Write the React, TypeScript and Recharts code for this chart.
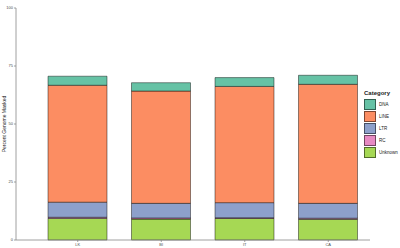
import React from "react";
import { BarChart, Bar, XAxis, YAxis, Label } from "recharts";

const samples = ["LK", "BI", "IT", "CA"];
const unknownPct = [9.3, 9.0, 9.3, 8.9];
const rcPct = [0.5, 0.5, 0.3, 0.5];
const ltrPct = [6.5, 6.3, 6.5, 6.4];
const linePct = [50.4, 48.4, 50.1, 51.3];
const dnaPct = [3.9, 3.6, 3.8, 3.9];
const yTicks = [0, 25, 50, 75, 100];

const categories = [
  { key: "DNA", color: "#66C2A5" },
  { key: "LINE", color: "#FC8D62" },
  { key: "LTR", color: "#8DA0CB" },
  { key: "RC", color: "#E78AC3" },
  { key: "Unknown", color: "#A6D854" },
];

const data = samples.map((s, i) => ({
  sample: s,
  Unknown: unknownPct[i],
  RC: rcPct[i],
  LTR: ltrPct[i],
  LINE: linePct[i],
  DNA: dnaPct[i],
}));

const stackOrder = ["Unknown", "RC", "LTR", "LINE", "DNA"];
const colorOf = (k: string) => categories.find((c) => c.key === k)!.color;

const tickStyle = { fontSize: 4, fill: "#4d4d4d", fontFamily: "Liberation Sans, Arial" };

const App: React.FC = () => {
  return (
    <div style={{ position: "absolute", left: 0, top: 0, width: 400, height: 248, background: "#fff" }}>
      <BarChart
        width={400}
        height={248}
        data={data}
        margin={{ top: 8, right: 30, left: 0, bottom: 0 }}
      >
        <XAxis
          dataKey="sample"
          height={8}
          padding={{ left: 20, right: 0 }}
          tick={tickStyle}
          tickSize={2}
          tickMargin={1}
          stroke="#888"
          strokeWidth={0.8}
        />
        <YAxis
          domain={[0, 100]}
          ticks={yTicks}
          width={16}
          tick={tickStyle}
          tickSize={2}
          tickMargin={1}
          stroke="#888"
          strokeWidth={0.8}
        >
          <Label
            value="Percent Genome Masked"
            angle={-90}
            position="insideLeft"
            offset={0}
            dx={4}
            style={{ fontSize: 5, fill: "#222", fontFamily: "Liberation Sans, Arial", textAnchor: "middle" }}
          />
        </YAxis>
        {stackOrder.map((k) => (
          <Bar
            key={k}
            dataKey={k}
            stackId="a"
            fill={colorOf(k)}
            stroke="#000"
            strokeOpacity={0.55}
            strokeWidth={0.8}
            barSize={59}
            isAnimationActive={false}
          />
        ))}
      </BarChart>
      <div
        style={{
          position: "absolute",
          left: 364,
          top: 90,
          fontFamily: "Liberation Sans, Arial",
          color: "#222",
        }}
      >
        <div style={{ fontSize: 6, fontWeight: "bold", marginBottom: 1, lineHeight: "7px" }}>Category</div>
        {categories.map((c) => (
          <div key={c.key} style={{ display: "flex", alignItems: "center", height: 12 }}>
            <div
              style={{
                width: 12,
                height: 11,
                background: c.color,
                border: "0.8px solid rgba(0,0,0,0.5)",
                boxSizing: "border-box",
                marginRight: 3,
              }}
            />
            <span style={{ fontSize: 4.5 }}>{c.key}</span>
          </div>
        ))}
      </div>
    </div>
  );
};

export default App;
